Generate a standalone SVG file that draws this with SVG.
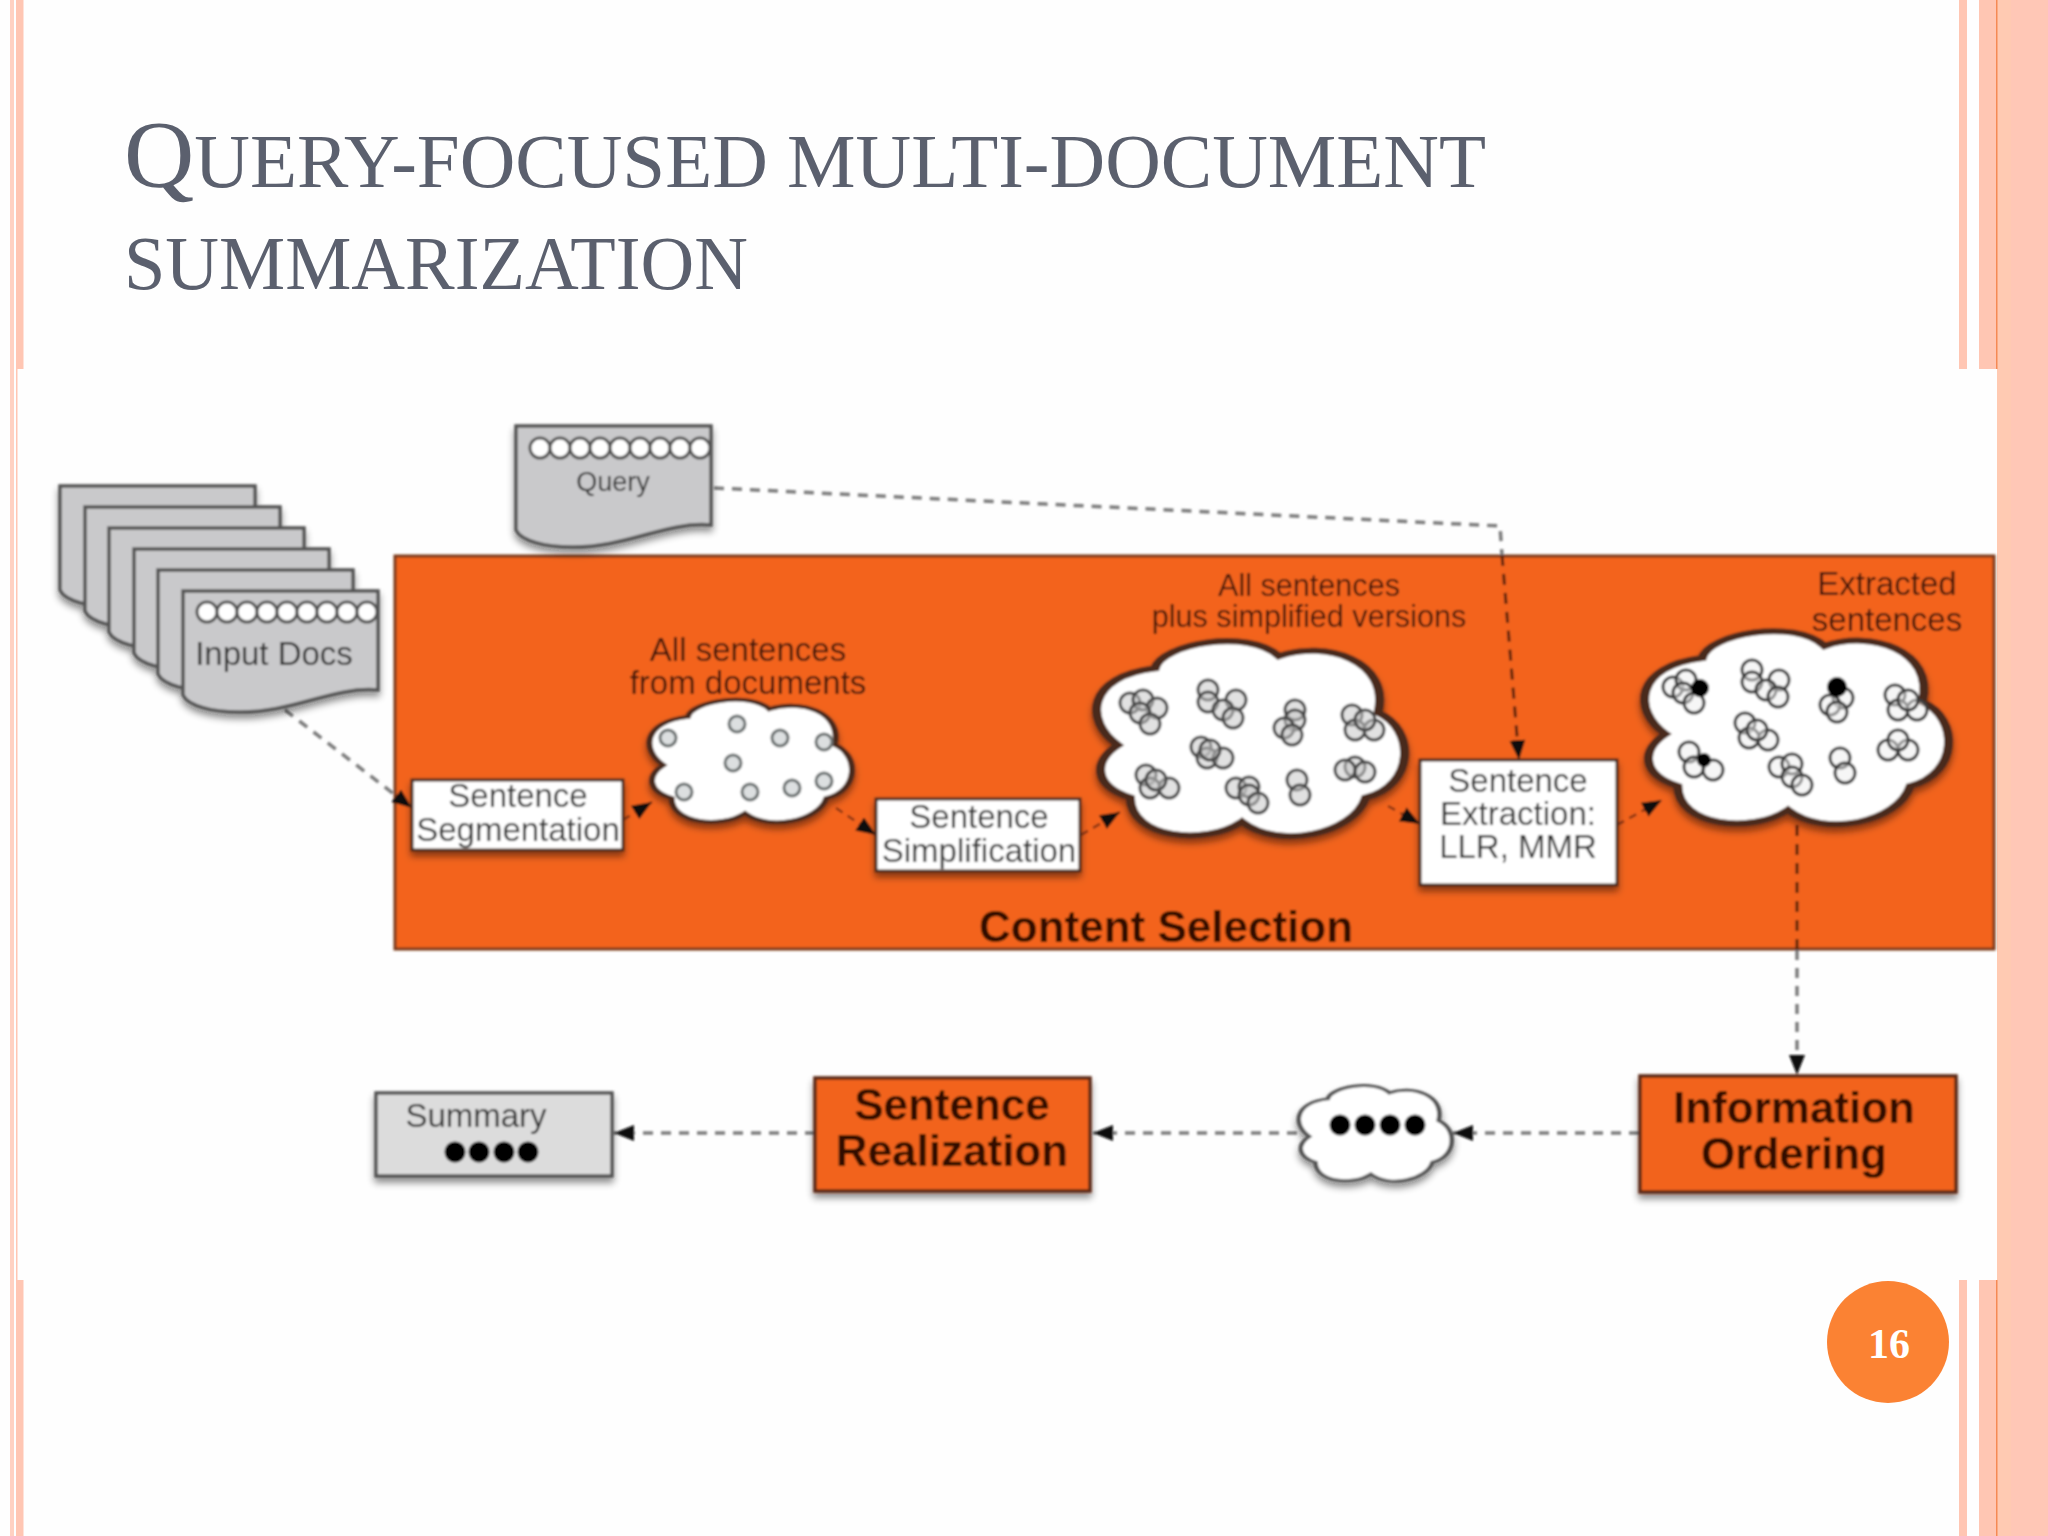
<svg xmlns="http://www.w3.org/2000/svg" xmlns:xlink="http://www.w3.org/1999/xlink" width="2048" height="1536" viewBox="0 0 2048 1536">
<style>
.t{font-family:"Liberation Sans",Arial,sans-serif;text-anchor:middle}
.lab{font-size:33px;fill:#40190a}
.lab2{font-size:30.6px;fill:#40190a}
.box{font-size:33px;fill:#303030}
.hd{font-size:44px;font-weight:700;fill:#320e06}
.wb{fill:#fff;stroke:#4a2a1c;stroke-width:3}
.ob{fill:#f2641f;stroke:#5c2a14;stroke-width:3.5}
.doc{fill:#c9c9cb;stroke:#555;stroke-width:3.5}
.cl{fill:#fff;stroke:#4a2a1c;stroke-width:3;vector-effect:non-scaling-stroke}
.r{fill:#fff;stroke:#555;stroke-width:3}
.c1{fill:#dcdfe0;stroke:#6a7070;stroke-width:3}
.c2{fill:#c8c8c8;fill-opacity:.55;stroke:#4a4a4a;stroke-width:3}
.c3{fill:#eee;fill-opacity:.5;stroke:#3c3c3c;stroke-width:3}
.dash{fill:none;stroke:#7c7c7c;stroke-width:3.500;stroke-dasharray:10 8}
.dashd{fill:none;stroke:#5a2010;stroke-width:3;stroke-dasharray:11 8}
.solid{fill:none;stroke:#8a3515;stroke-width:2.500;stroke-dasharray:8 6}
.st{fill:#ffc6b3}
.ttl{font-family:"Liberation Serif","Times New Roman",serif;font-size:76px;fill:#5b606e;text-transform:uppercase}
</style>
<defs>
<filter id="sh" x="-15%" y="-15%" width="130%" height="140%"><feDropShadow dx="0" dy="5" stdDeviation="3.500" flood-color="#000" flood-opacity=".45"/></filter>
<filter id="soft" filterUnits="userSpaceOnUse" x="0" y="0" width="2048" height="1536"><feGaussianBlur stdDeviation="0.9"/></filter>
<marker id="ah" markerUnits="userSpaceOnUse" markerWidth="22" markerHeight="18" refX="20" refY="8" orient="auto"><path d="M0,0 L20,8 L0,16 Z" fill="#111"/></marker>
<path id="docp" d="M0,0 H195 V99 C150,95 110,122 55,121 C30,121 5,115 0,104 Z"/>
<path id="cloud" d="M8,52 C-3,40 -2,18 20,14 C22,2 50,-6 60,8 C75,0 96,10 92,36 C104,44 104,72 88,78 C84,96 60,104 48,90 C36,102 12,98 12,78 C0,72 0,60 8,52 Z"/>
</defs>

<rect width="2048" height="1536" fill="#fefefe"/>
<g id="frame">
<rect class="st" x="10" y="0" width="4" height="1536" opacity=".8"/>
<rect class="st" x="16" y="0" width="1.500" height="1536"/>
<rect class="st" x="16.500" y="0" width="7" height="369"/>
<rect class="st" x="16.500" y="1280" width="7" height="256"/>
<rect class="st" x="1959" y="0" width="8" height="369"/>
<rect class="st" x="1979" y="0" width="17" height="369"/>
<rect class="st" x="1959" y="1280" width="8" height="256"/>
<rect class="st" x="1979" y="1280" width="17" height="256"/>
<rect x="1997" y="0" width="14" height="1536" fill="#ffcab2"/>
<rect x="2011" y="0" width="37" height="1536" fill="#ffc7b6"/>
<rect x="1996" y="0" width="1.500" height="369" fill="#f58a55"/>
<rect x="1996" y="1280" width="1.500" height="256" fill="#f58a55"/>
</g>
<text id="title" class="ttl" x="124" y="187" textLength="1362" lengthAdjust="spacingAndGlyphs"><tspan font-size="96" style="font-size:96px">Q</tspan>uery-focused multi-document</text>
<text id="title2" class="ttl" x="124" y="289" textLength="624" lengthAdjust="spacingAndGlyphs">summarization</text>

<g id="diagram" filter="url(#soft)">
<g id="content-selection">
<rect x="395" y="556" width="1599" height="393" fill="#f3641e" stroke="#7a3a1c" stroke-width="3"/>
<text class="t hd" x="1166" y="942">Content Selection</text>
<text class="t lab" x="748" y="661">All sentences</text>
<text class="t lab" x="748" y="694">from documents</text>
<text class="t lab2" x="1309" y="596">All sentences</text>
<text class="t lab2" x="1309" y="627">plus simplified versions</text>
<text class="t lab" x="1887" y="595">Extracted</text>
<text class="t lab" x="1887" y="631">sentences</text>
</g>

<g id="connectors">
<path class="dash" d="M285,710 L412,808" marker-end="url(#ah)"/>
<path class="dash" d="M714,488 L1500,526 L1502,555"/>
<path class="dashd" d="M1502,555 L1519,760" marker-end="url(#ah)"/>
<path class="dashd" d="M1797,825 V950"/>
<path class="dash" d="M1797,950 V1075" marker-end="url(#ah)"/>
<path class="solid" d="M623,820 L652,802" marker-end="url(#ah)"/>
<path class="solid" d="M836,808 L876,835" marker-end="url(#ah)"/>
<path class="solid" d="M1081,835 L1120,812" marker-end="url(#ah)"/>
<path class="solid" d="M1388,806 L1420,824" marker-end="url(#ah)"/>
<path class="solid" d="M1617,825 L1662,800" marker-end="url(#ah)"/>
<path class="dash" d="M1639,1133 H1453" marker-end="url(#ah)"/>
<path class="dash" d="M1297,1133 H1093" marker-end="url(#ah)"/>
<path class="dash" d="M815,1133 H614" marker-end="url(#ah)"/>
</g>

<g id="query" filter="url(#sh)">
<use xlink:href="#docp" href="#docp" class="doc" transform="translate(516,426)"/>
<g class="r"><circle cx="540" cy="448" r="10"/><circle cx="560" cy="448" r="10"/><circle cx="580" cy="448" r="10"/><circle cx="600" cy="448" r="10"/><circle cx="620" cy="448" r="10"/><circle cx="640" cy="448" r="10"/><circle cx="660" cy="448" r="10"/><circle cx="680" cy="448" r="10"/><circle cx="700" cy="448" r="10"/></g>
<text class="t" x="613" y="491" font-size="27" fill="#303030">Query</text>
</g>

<g id="input-docs" filter="url(#sh)">
<use xlink:href="#docp" href="#docp" class="doc" transform="translate(60,486)"/>
<use xlink:href="#docp" href="#docp" class="doc" transform="translate(85,507)"/>
<use xlink:href="#docp" href="#docp" class="doc" transform="translate(109,528)"/>
<use xlink:href="#docp" href="#docp" class="doc" transform="translate(134,549)"/>
<use xlink:href="#docp" href="#docp" class="doc" transform="translate(158,570)"/>
<use xlink:href="#docp" href="#docp" class="doc" transform="translate(183,591)"/>
<g class="r"><circle cx="207" cy="612" r="10"/><circle cx="227" cy="612" r="10"/><circle cx="247" cy="612" r="10"/><circle cx="267" cy="612" r="10"/><circle cx="287" cy="612" r="10"/><circle cx="307" cy="612" r="10"/><circle cx="327" cy="612" r="10"/><circle cx="347" cy="612" r="10"/><circle cx="367" cy="612" r="10"/></g>
<text class="t" x="274" y="665" font-size="33" fill="#303030">Input Docs</text>
</g>

<g id="sentence-segmentation" filter="url(#sh)">
<rect class="wb" x="412" y="780" width="211" height="70"/>
<text class="t box" x="518" y="807">Sentence</text>
<text class="t box" x="518" y="841">Segmentation</text>
</g>

<g id="cloud-1">
<g filter="url(#sh)"><use xlink:href="#cloud" href="#cloud" class="cl" transform="translate(647,699) scale(2.04,1.27)"/></g>
<g class="c1"><circle cx="668" cy="738" r="8"/><circle cx="737" cy="724" r="8"/><circle cx="780" cy="738" r="8"/><circle cx="824" cy="742" r="8"/><circle cx="733" cy="763" r="8"/><circle cx="684" cy="792" r="8"/><circle cx="750" cy="792" r="8"/><circle cx="792" cy="788" r="8"/><circle cx="824" cy="781" r="8"/></g>
</g>

<g id="sentence-simplification" filter="url(#sh)">
<rect class="wb" x="876" y="799" width="204" height="72"/>
<text class="t box" x="979" y="828">Sentence</text>
<text class="t box" x="979" y="862">Simplification</text>
</g>

<g id="cloud-2">
<g filter="url(#sh)"><use xlink:href="#cloud" href="#cloud" class="cl" transform="translate(1093,640) scale(3.1,2.02)"/></g>
<g class="c2">
<circle cx="1130" cy="703" r="10"/><circle cx="1143" cy="700" r="10"/><circle cx="1157" cy="708" r="10"/><circle cx="1140" cy="713" r="10"/><circle cx="1150" cy="724" r="10"/>
<circle cx="1208" cy="690" r="10"/><circle cx="1208" cy="702" r="10"/><circle cx="1236" cy="700" r="10"/><circle cx="1223" cy="710" r="10"/><circle cx="1233" cy="718" r="10"/>
<circle cx="1295" cy="710" r="10"/><circle cx="1295" cy="720" r="10"/><circle cx="1284" cy="728" r="10"/><circle cx="1292" cy="735" r="10"/>
<circle cx="1352" cy="715" r="10"/><circle cx="1355" cy="730" r="10"/><circle cx="1374" cy="730" r="10"/><circle cx="1365" cy="720" r="10"/>
<circle cx="1201" cy="747" r="10"/><circle cx="1207" cy="758" r="10"/><circle cx="1223" cy="758" r="10"/><circle cx="1210" cy="750" r="10"/>
<circle cx="1355" cy="767" r="10"/><circle cx="1345" cy="770" r="10"/><circle cx="1365" cy="772" r="10"/>
<circle cx="1146" cy="775" r="10"/><circle cx="1150" cy="788" r="10"/><circle cx="1169" cy="788" r="10"/><circle cx="1156" cy="780" r="10"/>
<circle cx="1236" cy="788" r="10"/><circle cx="1249" cy="787" r="10"/><circle cx="1249" cy="795" r="10"/><circle cx="1258" cy="803" r="10"/>
<circle cx="1297" cy="780" r="10"/><circle cx="1300" cy="795" r="10"/>
</g>
</g>

<g id="sentence-extraction" filter="url(#sh)">
<rect class="wb" x="1420" y="760" width="197" height="125"/>
<text class="t box" x="1518" y="792">Sentence</text>
<text class="t box" x="1518" y="825">Extraction:</text>
<text class="t box" x="1518" y="858">LLR, MMR</text>
</g>

<g id="cloud-3">
<g filter="url(#sh)"><use xlink:href="#cloud" href="#cloud" class="cl" transform="translate(1641,630) scale(3.06,2.0)"/></g>
<g class="c3">
<circle cx="1673" cy="687" r="10"/><circle cx="1686" cy="680" r="10"/><circle cx="1683" cy="693" r="10"/><circle cx="1694" cy="703" r="10"/>
<circle cx="1752" cy="670" r="10"/><circle cx="1752" cy="682" r="10"/><circle cx="1779" cy="680" r="10"/><circle cx="1766" cy="690" r="10"/><circle cx="1778" cy="697" r="10"/>
<circle cx="1843" cy="698" r="10"/><circle cx="1830" cy="705" r="10"/><circle cx="1837" cy="712" r="10"/>
<circle cx="1895" cy="695" r="10"/><circle cx="1898" cy="710" r="10"/><circle cx="1917" cy="710" r="10"/><circle cx="1908" cy="700" r="10"/>
<circle cx="1745" cy="723" r="10"/><circle cx="1749" cy="738" r="10"/><circle cx="1768" cy="740" r="10"/><circle cx="1757" cy="730" r="10"/>
<circle cx="1689" cy="752" r="10"/><circle cx="1694" cy="767" r="10"/><circle cx="1713" cy="770" r="10"/>
<circle cx="1779" cy="767" r="10"/><circle cx="1792" cy="764" r="10"/><circle cx="1792" cy="777" r="10"/><circle cx="1802" cy="785" r="10"/>
<circle cx="1840" cy="758" r="10"/><circle cx="1845" cy="773" r="10"/>
<circle cx="1888" cy="750" r="10"/><circle cx="1908" cy="750" r="10"/><circle cx="1898" cy="740" r="10"/>
</g>
<g fill="#000"><circle cx="1700" cy="688" r="9"/><circle cx="1837" cy="687" r="10"/><circle cx="1704" cy="760" r="7"/></g>
</g>

<g id="information-ordering" filter="url(#sh)">
<rect class="ob" x="1640" y="1076" width="316" height="116"/>
<text class="t hd" x="1794" y="1123">Information</text>
<text class="t hd" x="1794" y="1169">Ordering</text>
</g>

<g id="cloud-4">
<g filter="url(#sh)"><use xlink:href="#cloud" href="#cloud" class="cl" style="stroke:#555" transform="translate(1297,1085) scale(1.54,0.99)"/></g>
<g fill="#000"><circle cx="1340" cy="1125" r="10.500"/><circle cx="1365" cy="1125" r="10.500"/><circle cx="1390" cy="1125" r="10.500"/><circle cx="1415" cy="1125" r="10.500"/></g>
</g>

<g id="sentence-realization" filter="url(#sh)">
<rect class="ob" x="815" y="1078" width="275" height="113"/>
<text class="t hd" x="952" y="1120">Sentence</text>
<text class="t hd" x="952" y="1166">Realization</text>
</g>

<g id="summary" filter="url(#sh)">
<rect x="376" y="1093" width="236" height="83" fill="#dcdcdc" stroke="#555" stroke-width="3.500"/>
<text class="t box" x="476" y="1127">Summary</text>
<g fill="#000"><circle cx="455" cy="1152" r="10.500"/><circle cx="479" cy="1152" r="10.500"/><circle cx="504" cy="1152" r="10.500"/><circle cx="528" cy="1152" r="10.500"/></g>
</g>
</g>

<g id="page-number">
<circle cx="1888" cy="1342" r="61" fill="#fb8233"/>
<text x="1889" y="1358" font-family="'Liberation Serif','Times New Roman',serif" font-size="42" font-weight="700" fill="#fff" text-anchor="middle">16</text>
</g>
</svg>
